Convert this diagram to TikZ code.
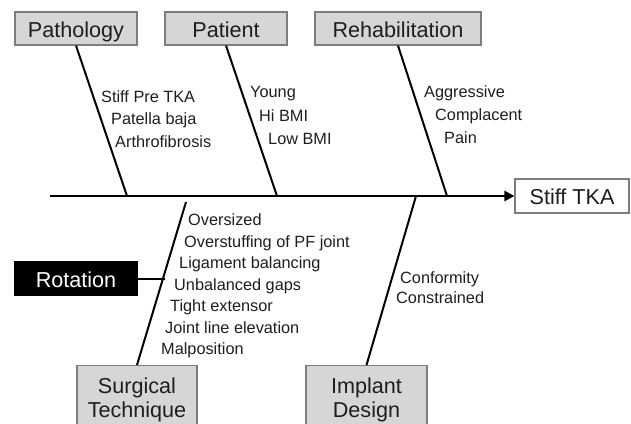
\documentclass[tikz,border=0pt]{standalone}
\usepackage{fontspec}
\setmainfont{Liberation Sans}
\usepackage{tikz}
\usetikzlibrary{arrows.meta}

\definecolor{boxgray}{RGB}{214,214,214}
\definecolor{framegray}{RGB}{125,125,125}
\definecolor{inkgray}{RGB}{30,30,30}

\begin{document}
\begin{tikzpicture}[
	x=1pt, y=-1pt,
	cause/.style={
		draw=framegray,
		fill=boxgray,
		line width=1.2pt,
		text=inkgray,
		minimum height=33pt,
		inner sep=0pt,
		font=\fontsize{21.6}{24}\selectfont
	},
	oneline/.style={
		text height=17pt,
		text depth=0pt
	},
	bone/.style={
		draw=black,
		line width=2pt
	},
	item/.style={
		anchor=base west,
		inner sep=0pt,
		text=inkgray,
		font=\fontsize{16.3}{19}\selectfont
	}
]
	\clip (0,0) rectangle (631,423);
	% Ursachen (oben)
	\node[cause, oneline, minimum width=122pt] (pathology) at (76,28.5)  {Pathology};
	\node[cause, oneline, minimum width=122pt] (patient)   at (226,28.5) {Patient};
	\node[cause, oneline, minimum width=166pt] (rehab)     at (398,28.5) {Rehabilitation};
	% Ursachen (unten)
	\node[
		cause,
		anchor=north,
		minimum width=120pt,
		inner ysep=12pt,
		align=center
	] (surgical) at (137,365) {Surgical\\Technique};
	\node[
		cause,
		anchor=north,
		minimum width=121pt,
		inner ysep=12pt,
		align=center
	] (implant) at (366.5,365) {Implant\\Design};
	% Wirkung
	\node[
		cause,
		oneline,
		fill=white,
		minimum width=114pt,
		minimum height=34pt
	] (stiff) at (572,196) {Stiff TKA};
	% Rotation
	\node[
		cause,
		oneline,
		draw=black,
		fill=black,
		text=white,
		minimum width=122pt
	] (rotation) at (76,278.5) {Rotation};

	% Gräten
	\coordinate (tail)       at (50,196);
	\coordinate (pathSpine)  at (127,196);
	\coordinate (patSpine)   at (277,196);
	\coordinate (rehabSpine) at (447,196);
	\coordinate (surgTop)    at (186,202);
	\coordinate (implSpine)  at (416,196);
	\coordinate (rotJoin)    at (164.6,278.5);
	\draw[
		line width=2.5pt,
		-{Triangle[length=10pt,width=10pt]}
	] (tail) -- (stiff.west);
	\draw[bone] (pathology.south) -- (pathSpine);
	\draw[bone] (patient.south)   -- (patSpine);
	\draw[bone] (rehab.south)     -- (rehabSpine);
	\draw[bone] (surgical.north)  -- (surgTop);
	\draw[bone] (implant.north)   -- (implSpine);
	\draw[bone] (rotation.east)   -- (rotJoin);

	% Begriffe
	\node[item] (stiffPre)  at (101,102)   {Stiff Pre TKA};
	\node[item] (patella)   at (111,124.5) {Patella baja};
	\node[item] (arthro)    at (115,147)   {Arthrofibrosis};
	\node[item] (young)     at (250,97.5)  {Young};
	\node[item] (hiBmi)     at (259,121)   {Hi BMI};
	\node[item] (lowBmi)    at (268,144.5) {Low BMI};
	\node[item] (aggress)   at (424,97.5)  {Aggressive};
	\node[item] (complac)   at (435,120)   {Complacent};
	\node[item] (pain)      at (444,143.5) {Pain};
	\node[item] (oversized) at (188,225.5) {Oversized};
	\node[item] (overstuff) at (184,247)   {Overstuffing of PF joint};
	\node[item] (ligament)  at (179,268.5) {Ligament balancing};
	\node[item] (gaps)      at (174,290)   {Unbalanced gaps};
	\node[item] (tight)     at (170,311.5) {Tight extensor};
	\node[item] (jointLine) at (165,333)   {Joint line elevation};
	\node[item] (malpos)    at (161,354.5) {Malposition};
	\node[item] (conform)   at (400,283.5) {Conformity};
	\node[item] (constr)    at (396,303.5) {Constrained};
\end{tikzpicture}
\end{document}
